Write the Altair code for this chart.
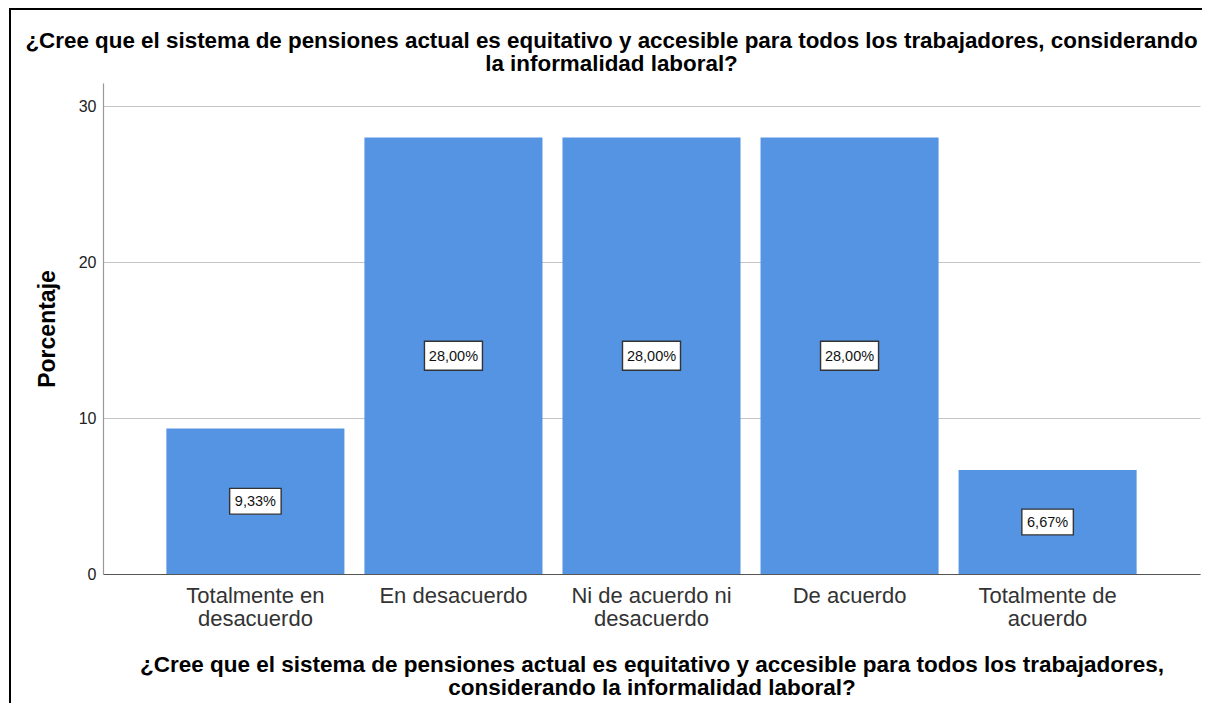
import altair as alt
import pandas as pd

categories = [
    "Totalmente en desacuerdo",
    "En desacuerdo",
    "Ni de acuerdo ni desacuerdo",
    "De acuerdo",
    "Totalmente de acuerdo",
]
percentages = [9.33, 28.00, 28.00, 28.00, 6.67]
value_labels = ["9,33%", "28,00%", "28,00%", "28,00%", "6,67%"]
y_ticks = [0, 10, 20, 30]

title_lines = [
    "¿Cree que el sistema de pensiones actual es equitativo y accesible para todos los trabajadores, considerando",
    "la informalidad laboral?",
]
xtitle_lines = [
    "¿Cree que el sistema de pensiones actual es equitativo y accesible para todos los trabajadores,",
    "considerando la informalidad laboral?",
]

df = pd.DataFrame({"cat": categories, "pct": percentages, "lab": value_labels})

FONT = "Liberation Sans"
W, H = 1097, 491

x_enc = alt.X(
    "cat:N",
    sort=categories,
    scale=alt.Scale(paddingInner=0.101, paddingOuter=0.32),
    axis=alt.Axis(
        title=xtitle_lines,
        titleFont=FONT,
        titleFontSize=22.5,
        titleFontWeight="bold",
        titleColor="#000",
        titlePadding=24,
        titleLineHeight=23,
        labelFont=FONT,
        labelFontSize=22,
        labelColor="#333",
        labelAngle=0,
        labelPadding=11,
        labelLineHeight=23,
        labelLimit=0,
        labelExpr="length(datum.label) > 14 ? split(replace(datum.label, regexp(' ([^ ]+)$'), '|$1'), '|') : datum.label",
        ticks=False,
        domainColor="#555",
        domainWidth=1.2,
        grid=False,
    ),
)

y_axis = alt.Axis(
    title="Porcentaje",
    titleFont=FONT,
    titleFontSize=23,
    titleFontWeight="bold",
    titleColor="#000",
    titlePadding=19,
    values=y_ticks,
    labelFont=FONT,
    labelFontSize=16,
    labelColor="#222",
    labelPadding=7,
    ticks=False,
    domainColor="#999",
    domainWidth=1.2,
    grid=True,
    gridColor="#c4c4c4",
    gridWidth=1.2,
)

bars = alt.Chart(df).mark_bar(color="#5594E3").encode(
    x=x_enc,
    y=alt.Y("pct:Q", scale=alt.Scale(domain=[0, 31.5], nice=False), axis=y_axis),
)

base = alt.Chart(df).transform_calculate(
    mid="datum.pct / 2",
    boxw="6.5 * length(datum.lab) + 19",
    boxsize="datum.boxw * datum.boxw",
)

boxes = base.mark_point(
    shape="M-1,-0.5 L1,-0.5 L1,0.5 L-1,0.5 Z",
    filled=True,
    fill="white",
    stroke="#333",
    strokeWidth=1.4,
    opacity=1,
).encode(
    x=alt.X("cat:N", sort=categories),
    y=alt.Y("mid:Q"),
    size=alt.Size("boxsize:Q", scale=None, legend=None),
)

texts = base.mark_text(font=FONT, fontSize=14.5, color="#111", dy=1).encode(
    x=alt.X("cat:N", sort=categories),
    y=alt.Y("mid:Q"),
    text="lab:N",
)

frame_data = alt.Data(values=[{"k": 1}])
left_border = alt.Chart(frame_data).mark_rule(color="#000", strokeWidth=2).encode(
    x=alt.value(-93), y=alt.value(-74), y2=alt.value(H + 140)
)
top_border = alt.Chart(frame_data).mark_rule(color="#000", strokeWidth=2).encode(
    x=alt.value(-94), x2=alt.value(W + 20), y=alt.value(-74)
)

chart = (
    alt.layer(bars, boxes, texts, left_border, top_border)
    .properties(
        width=W,
        height=H,
        title=alt.TitleParams(
            text=title_lines,
            font=FONT,
            fontSize=22.4,
            fontWeight="bold",
            color="#000",
            anchor="middle",
            frame="group",
            dx=-40,
            dy=78,
            offset=11,
            lineHeight=23,
        ),
        padding={"left": 95, "top": 75, "right": 2, "bottom": 129},
        autosize=alt.AutoSizeParams(type="none"),
        background="white",
    )
    .configure_view(stroke=None)
)

chart.save("out.html", embed_options={"renderer": "svg", "actions": False})
